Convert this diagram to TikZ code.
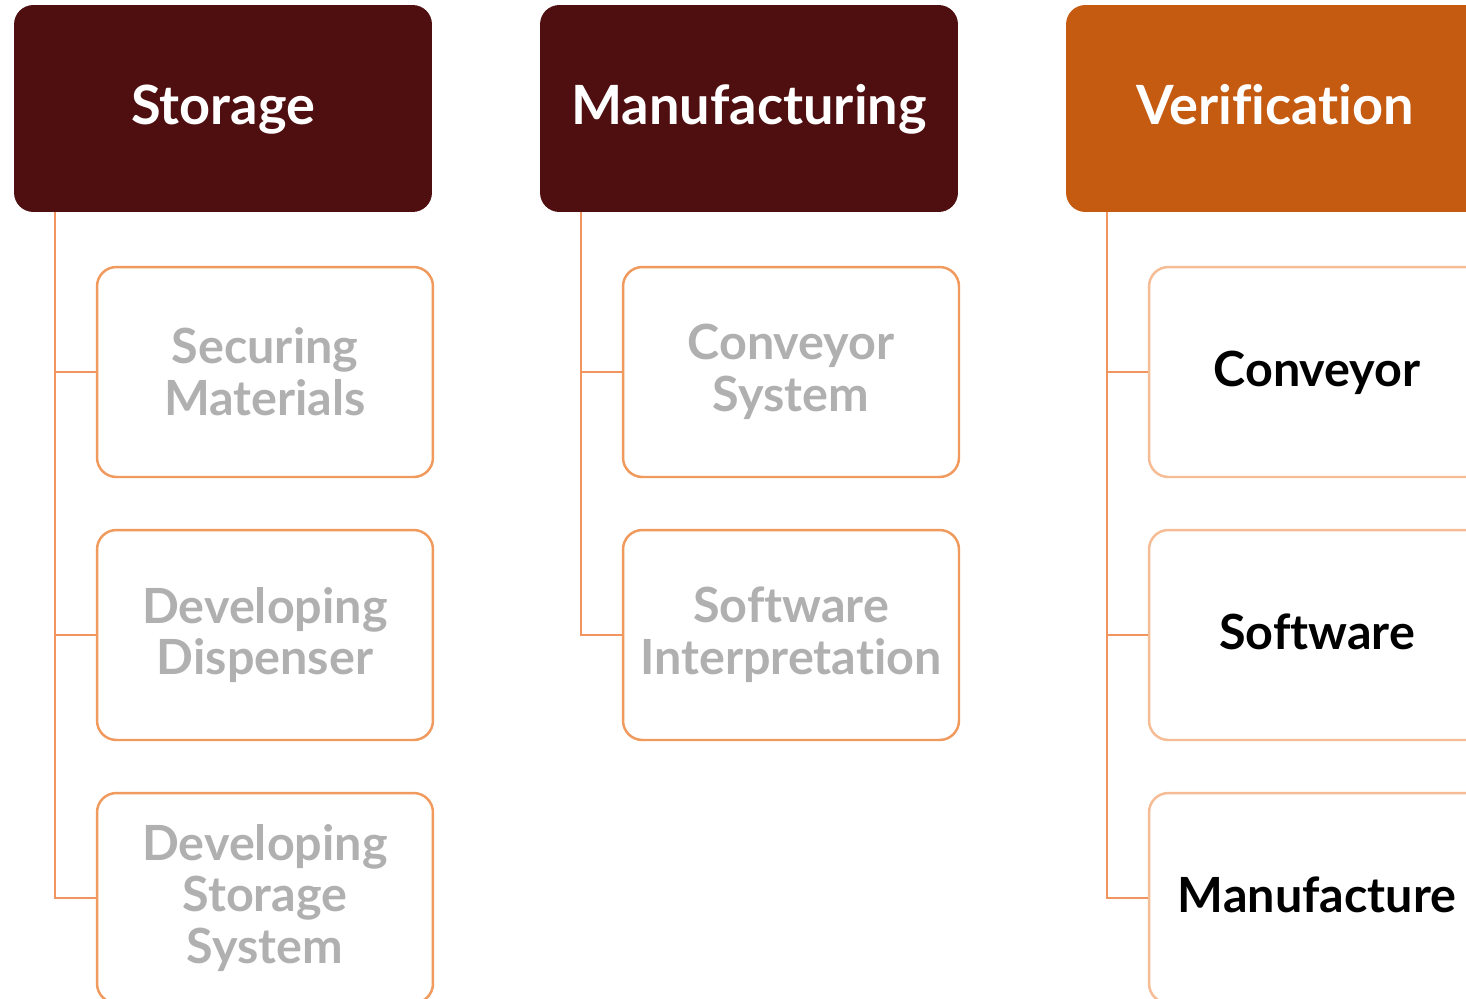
\documentclass[tikz,border=0pt]{standalone}
\usepackage{fontspec}
\setmainfont{Lato}[Ligatures={NoCommon}]
\usetikzlibrary{calc}

\definecolor{darkmaroon}{HTML}{4F0E0F}
\definecolor{burntorange}{HTML}{C55A11}
\definecolor{linkorange}{HTML}{F09560}
\definecolor{edgeorange}{HTML}{F09A5E}
\definecolor{paleorange}{HTML}{F6BC96}
\definecolor{doneGrey}{HTML}{B0B0B0}

\tikzset{
	header/.style={rounded corners=11pt, minimum width=8.36cm, minimum height=4.14cm,
		text=white, font=\bfseries\fontsize{30.8}{34}\selectfont, inner sep=0pt,
		text height=25pt, text depth=6.3pt},
	task/.style={draw=edgeorange, line width=1.4pt, rounded corners=11pt, fill=white,
		minimum width=6.72cm, minimum height=4.2cm, align=center, inner sep=0pt,
		font=\bfseries\fontsize{27.6}{29.5}\selectfont},
	done/.style={task, text=doneGrey},
	todo/.style={task, draw=paleorange, text=black, text height=23pt, text depth=6pt},
	branch/.style={linkorange, line width=1.1pt}
}

\begin{document}
\begin{tikzpicture}[x=0.02cm, y=-0.02cm]

	% page size of the reference
	\clip (0,0) rectangle (1466,998);
	\fill[white] (0,0) rectangle (1466,998);

	% column headers
	\node[header, fill=darkmaroon] (storage) at (223,108.5) {Storage};
	\node[header, fill=darkmaroon] (manufacturing) at (749,108.5) {Manufacturing};
	\node[header, fill=burntorange] (verification) at (1275,108.5) {Verification};

	% trunk start points
	\coordinate (sTrunk) at (55,212);
	\coordinate (mTrunk) at (581,212);
	\coordinate (vTrunk) at (1107,212);

	% storage tasks
	\node[done] (securing) at (265,372) {Securing\\Materials};
	\node[done] (dispenser) at (265,635) {Developing\\Dispenser};
	\node[done] (storagesys) at (265,898) {Developing\\Storage\\System};

	% manufacturing tasks
	\node[done] (conveyorsys) at (791,372) {Conveyor\\System};
	\node[done] (software) at (791,635) {Software\\Interpretation};

	% verification tasks
	\node[todo] (vconveyor) at (1317,372) {Conveyor};
	\node[todo] (vsoftware) at (1317,635) {Software};
	\node[todo] (vmanufacture) at (1317,898) {Manufacture};

	% connectors
	\draw[branch] (sTrunk) |- (securing.west);
	\draw[branch] (sTrunk) |- (dispenser.west);
	\draw[branch] (sTrunk) |- (storagesys.west);
	\draw[branch] (mTrunk) |- (conveyorsys.west);
	\draw[branch] (mTrunk) |- (software.west);
	\draw[branch] (vTrunk) |- (vconveyor.west);
	\draw[branch] (vTrunk) |- (vsoftware.west);
	\draw[branch] (vTrunk) |- (vmanufacture.west);

\end{tikzpicture}
\end{document}
